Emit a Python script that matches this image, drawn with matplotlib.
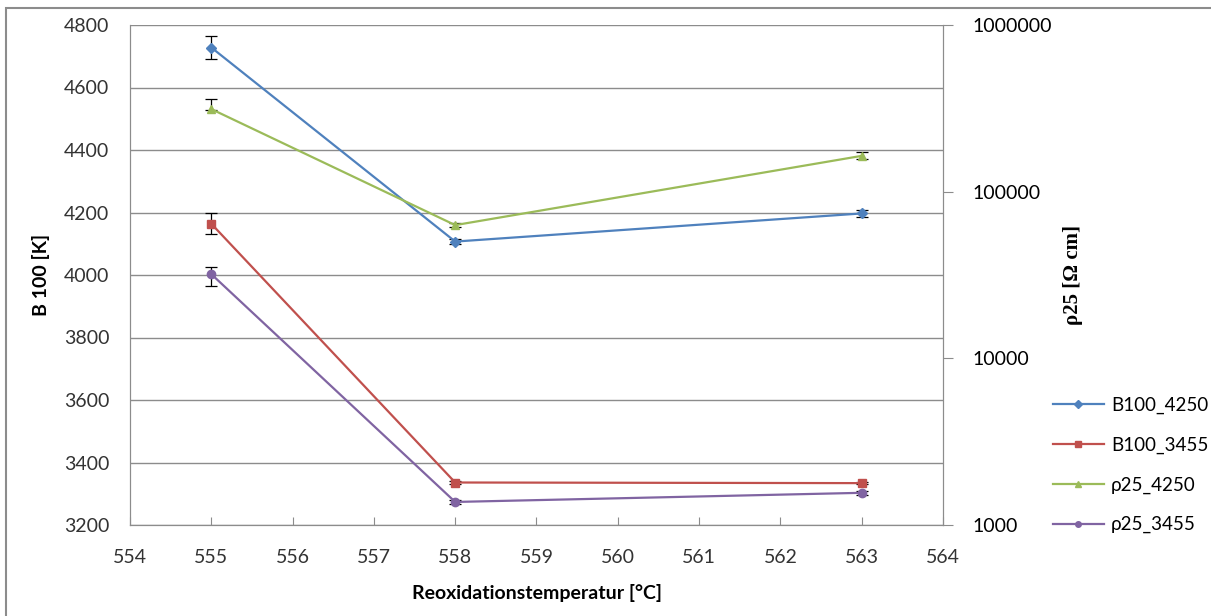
import numpy as np
import matplotlib.pyplot as plt
from matplotlib.lines import Line2D
from matplotlib.patches import Rectangle

temps = [555, 558, 563]

b100_4250 = [4728, 4107, 4197]
b100_4250_err = [37, 8, 10]
b100_3455 = [4164, 3336, 3334]
b100_3455_err = [33, 4, 4]

rho_4250 = [313000, 63000, 164000]
rho_4250_lo = [3000, 1500, 7000]
rho_4250_hi = [47000, 1500, 9000]
rho_3455 = [32000, 1375, 1560]
rho_3455_lo = [4800, 40, 50]
rho_3455_hi = [3300, 40, 50]

labels = ['B100_4250', 'B100_3455', '\u03c125_4250', '\u03c125_3455']
colors = ['#4F81BD', '#C0504D', '#9BBB59', '#8064A2']
markers = ['D', 's', '^', 'o']
msizes = [5, 6, 6, 6]

plt.rcParams['font.family'] = ['Lato', 'DejaVu Sans']

fig = plt.figure(figsize=(12.11, 6.16), dpi=100)
ax = fig.add_axes([130/1211, 1-525/616, (943-130)/1211, 500/616])
ax2 = ax.twinx()

ekw = dict(ecolor='black', elinewidth=0.9, capsize=4, capthick=0.9, lw=1.6)
ax.errorbar(temps, b100_4250, yerr=b100_4250_err, color=colors[0], marker=markers[0],
            ms=msizes[0], **ekw)
ax.errorbar(temps, b100_3455, yerr=b100_3455_err, color=colors[1], marker=markers[1],
            ms=msizes[1], **ekw)
ax2.errorbar(temps, rho_4250, yerr=[rho_4250_lo, rho_4250_hi], color=colors[2],
             marker=markers[2], ms=msizes[2], **ekw)
ax2.errorbar(temps, rho_3455, yerr=[rho_3455_lo, rho_3455_hi], color=colors[3],
             marker=markers[3], ms=msizes[3], **ekw)

ax.set_xlim(554, 564)
ax.set_xticks(np.arange(554, 565, 1))
ax.set_ylim(3200, 4800)
ax.set_yticks(np.arange(3200, 4801, 200))
ax.yaxis.grid(True, color='#8c8c8c', lw=1)
ax.set_axisbelow(True)

ax2.set_yscale('log')
ax2.set_ylim(1000, 1000000)
ax2.set_yticks([1000, 10000, 100000, 1000000])
ax2.set_yticklabels(['1000', '10000', '100000', '1000000'])
ax2.yaxis.set_minor_locator(plt.NullLocator())

for a in (ax, ax2):
    for s in a.spines.values():
        s.set_color('#8c8c8c')
    a.spines['top'].set_visible(False)

ax.tick_params(axis='y', length=0, labelsize=14, pad=15, colors='#333333')
ax.tick_params(axis='x', direction='in', length=6, color='#8c8c8c', labelsize=14,
               pad=17, labelcolor='#333333')
ax2.tick_params(axis='y', direction='out', length=7, color='#8c8c8c', labelsize=14,
                pad=14, labelcolor='black')

ax.set_xlabel('Reoxidationstemperatur [\u00b0C]', fontsize=14, fontweight='bold', labelpad=13)
ax.set_ylabel('B 100 [K]', fontsize=14, fontweight='bold', labelpad=10)
ax2.set_ylabel('\u03c125 [\u03a9 cm]', fontsize=15, fontweight='bold',
               family='Liberation Serif', labelpad=8)

handles = [Line2D([], [], color=c, marker=m, ms=4, lw=1.6) for c, m in zip(colors, markers)]
fig.legend(handles, labels, loc='upper left', bbox_to_anchor=(1036/1211, 1-380/616),
           frameon=False, fontsize=13.5, labelspacing=1.2, handlelength=2.7,
           handletextpad=0.4)

fig.patches.append(Rectangle((6/1211, -0.1), 1.2, 1-8/616+0.1, transform=fig.transFigure,
                             fill=False, edgecolor='#8c8c8c', lw=1.5))

fig.savefig('out.png', dpi=100)
